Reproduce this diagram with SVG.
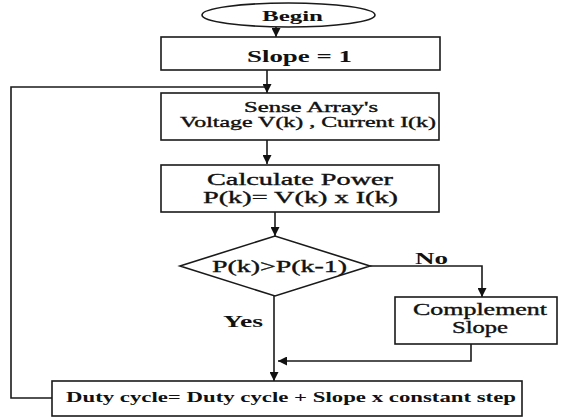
<svg xmlns="http://www.w3.org/2000/svg" width="562" height="417" viewBox="0 0 562 417">
  <defs>
    <marker id="arrow" viewBox="0 0 10 10" refX="10" refY="5" markerWidth="10" markerHeight="9" markerUnits="userSpaceOnUse" orient="auto">
      <path d="M0,0 L10,5 L0,10 z" fill="#111"/>
    </marker>
  </defs>
  <style>
    .shape { fill: #fff; stroke: #1a1a1a; stroke-width: 1.6; }
    .line { fill: none; stroke: #1a1a1a; stroke-width: 1.6; }
    .t { font-family: "Liberation Serif", "Times New Roman", serif; font-weight: bold; fill: #111; text-anchor: start; }
    .r { font-weight: normal; stroke: #111; stroke-width: 0.35; }
  </style>
  <rect width="562" height="417" fill="#fff"/>

  <g id="connectors">
    <line class="line" x1="276" y1="27" x2="276" y2="37" marker-end="url(#arrow)"/>
    <line class="line" x1="267" y1="70" x2="267" y2="93" marker-end="url(#arrow)"/>
    <polyline class="line" points="52,398 11,398 11,87 267,87"/>
    <line class="line" x1="267" y1="140" x2="267" y2="164" marker-end="url(#arrow)"/>
    <line class="line" x1="275" y1="212" x2="275" y2="236" marker-end="url(#arrow)"/>
    <polyline class="line" points="370,266 482,266 482,297" marker-end="url(#arrow)"/>
    <line class="line" x1="274" y1="296" x2="274" y2="381" marker-end="url(#arrow)"/>
    <polyline class="line" points="471,344 471,361 278,361" marker-end="url(#arrow)"/>
    <text class="t" x="415" y="264" font-size="16" textLength="33" lengthAdjust="spacingAndGlyphs">No</text>
    <text class="t" x="223" y="327" font-size="16" textLength="40" lengthAdjust="spacingAndGlyphs">Yes</text>
  </g>

  <g id="begin">
    <ellipse class="shape" cx="288.5" cy="15" rx="86.5" ry="12"/>
    <text class="t" x="262" y="21" font-size="14" textLength="61" lengthAdjust="spacingAndGlyphs">Begin</text>
  </g>

  <g id="init-slope">
    <rect class="shape" x="161" y="37" width="279" height="33"/>
    <text class="t" x="247" y="62" font-size="17" textLength="105" lengthAdjust="spacingAndGlyphs">Slope = 1</text>
  </g>

  <g id="sense">
    <rect class="shape" x="161" y="93" width="278" height="47"/>
    <text class="t r" x="244" y="112" font-size="14" textLength="134" lengthAdjust="spacingAndGlyphs">Sense Array's</text>
    <text class="t r" x="180" y="127" font-size="14" textLength="256" lengthAdjust="spacingAndGlyphs">Voltage V(k) , Current I(k)</text>
  </g>

  <g id="calc-power">
    <rect class="shape" x="161" y="165" width="278" height="47"/>
    <text class="t r" x="207" y="185" font-size="16" textLength="186" lengthAdjust="spacingAndGlyphs">Calculate Power</text>
    <text class="t r" x="203" y="203" font-size="16" textLength="195" lengthAdjust="spacingAndGlyphs">P(k)= V(k) x I(k)</text>
  </g>

  <g id="compare">
    <polygon class="shape" points="180,266 275,236 370,266 275,296"/>
    <text class="t r" x="212" y="272" font-size="16" textLength="135" lengthAdjust="spacingAndGlyphs">P(k)&gt;P(k-1)</text>
  </g>

  <g id="complement">
    <rect class="shape" x="395" y="297" width="162" height="47"/>
    <text class="t r" x="413" y="315" font-size="16" textLength="134" lengthAdjust="spacingAndGlyphs">Complement</text>
    <text class="t r" x="452" y="333" font-size="16" textLength="56" lengthAdjust="spacingAndGlyphs">Slope</text>
  </g>

  <g id="update-duty">
    <rect class="shape" x="52" y="381" width="470" height="35"/>
    <text class="t" x="66" y="402" font-size="15" textLength="450" lengthAdjust="spacingAndGlyphs">Duty cycle= Duty cycle + Slope x constant step</text>
  </g>
</svg>
